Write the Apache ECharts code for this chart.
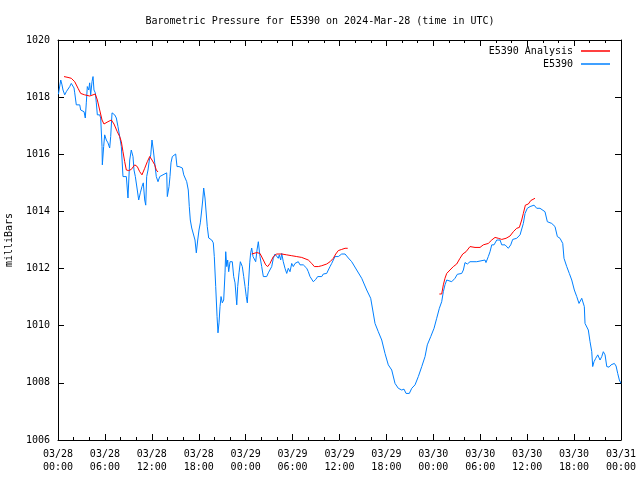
<!DOCTYPE html>
<html>
<head>
<meta charset="utf-8">
<script src="https://cdn.jsdelivr.net/npm/echarts@6/dist/echarts.min.js"></script>
<style>
html,body{margin:0;padding:0;background:#fff;}
#chart{width:640px;height:480px;}
</style>
</head>
<body>
<div id="chart"></div>
<script>
// Hours since 2024-03-28 00:00 UTC
const stationHours = [0.05,0.22,0.35,0.51,0.64,0.86,1.06,1.28,1.50,1.70,1.92,2.05,2.14,2.34,2.56,2.78,2.90,3.07,3.33,3.49,3.62,3.75,3.93,4.05,4.18,4.35,4.48,4.60,4.77,4.90,5.03,5.21,5.33,5.46,5.63,5.67,5.84,5.97,6.18,6.39,6.61,6.74,6.91,7.03,7.25,7.46,7.67,7.89,8.10,8.31,8.53,8.74,8.95,9.17,9.37,9.59,9.72,9.89,10.14,10.32,10.53,10.74,10.91,11.09,11.22,11.34,11.51,11.68,11.86,12.02,12.19,12.37,12.57,12.79,13.01,13.21,13.90,13.98,14.20,14.32,14.45,14.62,14.87,15.05,15.22,15.48,15.73,15.90,16.08,16.24,16.46,16.66,16.79,16.92,17.10,17.30,17.52,17.69,17.87,18.03,18.20,18.38,18.51,18.63,18.80,18.97,19.09,19.27,19.48,19.66,19.86,19.99,20.17,20.34,20.46,20.59,20.72,20.85,21.01,21.19,21.36,21.45,21.58,21.70,21.83,22.00,22.29,22.47,22.64,22.86,22.98,23.15,23.32,23.57,23.75,23.92,24.08,24.21,24.34,24.52,24.64,24.77,24.94,25.11,25.28,25.45,25.62,25.71,25.83,26.05,26.26,26.69,26.90,27.11,27.33,27.54,27.75,27.97,28.17,28.30,28.48,28.61,28.81,29.03,29.25,29.45,29.67,29.89,30.09,30.31,30.73,30.95,31.17,31.37,31.59,31.81,32.01,32.23,32.45,32.65,32.78,32.96,33.21,33.73,33.93,34.36,34.57,34.79,35.00,35.21,35.43,35.64,35.85,36.07,36.28,36.71,36.92,37.13,37.56,38.20,38.84,39.48,39.99,40.25,40.54,40.96,41.40,41.82,42.24,42.68,43.10,43.52,43.96,44.25,44.51,44.93,45.24,45.66,46.08,46.52,46.94,47.23,47.67,48.09,48.43,48.77,49.07,49.28,49.49,49.71,49.92,50.35,50.77,51.07,51.63,51.84,52.05,52.35,52.69,53.55,53.75,54.61,54.73,55.03,55.25,55.47,55.76,56.11,56.31,56.53,56.75,56.95,57.17,57.39,57.59,57.90,58.15,58.66,59.09,59.51,59.73,60.02,60.37,60.58,60.88,61.22,61.64,62.28,62.58,63.14,63.56,63.86,64.20,64.55,64.71,65.06,65.39,65.70,66.03,66.34,66.63,66.98,67.18,67.31,67.40,67.62,67.82,68.04,68.26,68.38,68.55,68.77,69.03,69.32,69.54,69.74,69.96,70.18,70.47,70.73,70.89,71.15,71.37,71.58,71.79,72.00];
const stationPressure = [1018.10,1018.08,1018.60,1018.43,1018.25,1018.08,1018.19,1018.25,1018.37,1018.48,1018.50,1018.32,1018.15,1017.73,1017.67,1017.73,1017.55,1017.62,1017.49,1017.27,1017.80,1018.37,1018.25,1018.50,1018.08,1018.54,1018.72,1018.25,1018.15,1017.80,1017.38,1017.45,1017.38,1017.27,1016.27,1015.63,1016.27,1016.68,1016.50,1016.40,1016.22,1016.62,1017.45,1017.49,1017.38,1017.27,1016.97,1016.62,1016.27,1015.22,1015.28,1015.22,1014.47,1015.80,1016.15,1015.92,1015.45,1015.22,1014.75,1014.40,1014.65,1014.87,1015.00,1014.40,1014.22,1015.22,1015.45,1015.80,1015.98,1016.50,1016.15,1015.70,1015.22,1015.04,1015.22,1015.28,1015.35,1014.52,1014.87,1015.22,1015.70,1015.92,1015.98,1016.01,1015.57,1015.57,1015.63,1015.52,1015.28,1015.28,1015.04,1014.75,1014.17,1013.70,1013.42,1013.35,1013.00,1012.55,1013.00,1013.35,1013.60,1014.05,1014.40,1014.82,1014.47,1014.52,1013.47,1013.07,1013.07,1013.00,1012.90,1012.42,1011.37,1010.32,1009.75,1010.10,1010.67,1011.02,1010.80,1010.90,1011.85,1012.59,1012.07,1012.30,1011.89,1012.24,1012.24,1011.72,1011.50,1010.73,1011.37,1011.85,1012.24,1012.07,1011.72,1011.37,1011.02,1010.80,1011.37,1012.20,1012.55,1012.72,1012.42,1012.48,1012.24,1012.65,1012.94,1012.90,1012.42,1012.07,1011.72,1011.72,1011.85,1011.89,1012.07,1012.36,1012.51,1012.48,1012.36,1012.48,1012.30,1012.53,1012.24,1012.01,1011.83,1012.01,1011.89,1012.18,1012.07,1012.18,1012.24,1012.13,1012.09,1012.13,1012.07,1012.01,1011.89,1011.72,1011.66,1011.54,1011.51,1011.62,1011.72,1011.72,1011.81,1011.83,1011.95,1012.07,1012.18,1012.30,1012.42,1012.36,1012.42,1012.48,1012.51,1012.51,1012.44,1012.37,1012.24,1011.95,1011.66,1011.25,1010.96,1010.55,1010.08,1009.79,1009.50,1009.03,1008.63,1008.45,1007.98,1007.81,1007.75,1007.78,1007.63,1007.63,1007.81,1007.93,1008.22,1008.57,1008.92,1009.33,1009.62,1009.91,1010.26,1010.61,1010.84,1011.19,1011.43,1011.60,1011.54,1011.54,1011.66,1011.80,1011.83,1011.95,1012.21,1012.16,1012.24,1012.24,1012.30,1012.30,1012.21,1012.42,1012.59,1012.83,1012.83,1013.00,1012.94,1013.00,1012.83,1012.77,1012.83,1012.77,1012.71,1012.83,1013.02,1013.06,1013.18,1013.58,1013.93,1014.11,1014.17,1014.11,1014.22,1014.11,1014.11,1013.99,1013.64,1013.58,1013.47,1013.12,1013.06,1012.88,1012.36,1012.07,1011.83,1011.60,1011.25,1011.02,1010.78,1010.96,1010.90,1010.67,1010.08,1010.08,1009.85,1009.44,1009.09,1008.57,1008.74,1008.86,1008.98,1008.80,1008.92,1009.09,1008.98,1008.57,1008.55,1008.63,1008.57,1008.68,1008.59,1008.33,1008.10,1007.98];

// Analysis (null = gap in analysis)
const analysisHours = [0.77,1.28,1.70,2.14,2.56,2.90,3.41,4.05,4.48,4.77,5.03,5.33,5.63,5.88,6.39,6.82,7.16,7.58,7.89,8.10,8.31,8.53,8.74,9.04,9.37,9.81,10.14,10.45,10.74,11.09,11.42,11.73,12.02,12.37,12.57,12.79,
  18.00,
  24.77,25.41,25.83,26.26,26.56,26.82,27.11,27.54,27.97,28.61,29.25,29.89,30.53,31.17,32.01,32.45,32.78,33.29,33.73,34.36,34.79,35.21,35.52,35.85,36.28,36.71,37.05,
  43.00,
  48.77,49.07,49.28,49.49,49.71,50.13,50.56,50.99,51.41,51.76,52.18,52.69,53.33,53.97,54.39,55.03,55.47,55.89,56.31,56.75,57.30,57.81,58.23,58.66,59.00,59.30,59.51,59.77,60.15,60.46,60.71,61.00];
const analysisPressure = [1018.72,1018.69,1018.66,1018.54,1018.31,1018.13,1018.08,1018.04,1018.08,1018.11,1017.90,1017.55,1017.20,1017.06,1017.14,1017.20,1017.06,1016.79,1016.62,1016.44,1016.09,1015.74,1015.45,1015.43,1015.47,1015.63,1015.57,1015.39,1015.28,1015.51,1015.74,1015.92,1015.80,1015.63,1015.45,1015.38,
  null,
  1012.51,1012.56,1012.53,1012.30,1012.13,1012.07,1012.18,1012.42,1012.51,1012.51,1012.48,1012.45,1012.42,1012.39,1012.30,1012.18,1012.07,1012.07,1012.10,1012.16,1012.24,1012.36,1012.51,1012.63,1012.67,1012.71,1012.71,
  null,
  1011.11,1011.11,1011.43,1011.66,1011.83,1011.95,1012.07,1012.16,1012.36,1012.51,1012.59,1012.77,1012.74,1012.74,1012.83,1012.88,1013.00,1013.09,1013.06,1013.02,1013.06,1013.14,1013.29,1013.41,1013.44,1013.70,1013.93,1014.22,1014.26,1014.38,1014.43,1014.46];

const xTicksHours = [0,6,12,18,24,30,36,42,48,54,60,66,72];
const yTicks = [1006,1008,1010,1012,1014,1016,1018,1020];

const FONT = 'DejaVu Sans Mono';
const chart = echarts.init(document.getElementById('chart'), null, {renderer: 'canvas'});

function xLabel(h) {
  const day = 28 + Math.floor(h / 24);
  const hh = h % 24;
  return '03/' + day + '\n' + (hh < 10 ? '0' : '') + hh + ':00';
}

const stationData = stationHours.map((h, i) => [h, stationPressure[i]]);
const analysisData = analysisHours.map((h, i) => [h, analysisPressure[i] === null ? '-' : analysisPressure[i]]);

const xCommon = {
  type: 'value', min: xTicksHours[0], max: xTicksHours[xTicksHours.length - 1], interval: 6,
  splitLine: {show: false},
  axisLine: {show: true, onZero: false, lineStyle: {color: '#000', width: 1}},
  axisTick: {show: true, inside: true, length: 6, lineStyle: {color: '#000'}},
  minorTick: {show: true, splitNumber: 3, length: 3, lineStyle: {color: '#000'}},
  minorSplitLine: {show: false}
};
const yCommon = {
  type: 'value', min: yTicks[0], max: yTicks[yTicks.length - 1], interval: 2,
  splitLine: {show: false},
  axisLine: {show: true, onZero: false, lineStyle: {color: '#000', width: 1}},
  axisTick: {show: true, inside: true, length: 6, lineStyle: {color: '#000'}}
};

chart.setOption({
  animation: false,
  backgroundColor: '#fff',
  title: {
    text: 'Barometric Pressure for E5390 on 2024-Mar-28 (time in UTC)',
    left: 'center', top: 11,
    textStyle: {fontFamily: FONT, fontSize: 10, fontWeight: 'normal', color: '#000'}
  },
  legend: [
    {
      data: ['E5390 Analysis'], right: 30, top: 46, orient: 'vertical', align: 'right', padding: 0,
      icon: 'rect', itemWidth: 29, itemHeight: 1.5,
      textStyle: {fontFamily: FONT, fontSize: 10, color: '#000', padding: [0, 3, 0, 0]}
    },
    {
      data: ['E5390'], right: 30, top: 59, orient: 'vertical', align: 'right', padding: 0,
      icon: 'rect', itemWidth: 29, itemHeight: 1.5,
      textStyle: {fontFamily: FONT, fontSize: 10, color: '#000', padding: [0, 3, 0, 0]}
    }
  ],
  grid: {left: 58, right: 19, top: 40, bottom: 40, show: false, containLabel: false, outerBoundsMode: 'none'},
  xAxis: [
    Object.assign({}, xCommon, {
      position: 'bottom',
      axisLabel: {
        show: true, showMinLabel: true, showMaxLabel: true, margin: 8,
        fontFamily: FONT, fontSize: 10, color: '#000', lineHeight: 13,
        formatter: xLabel
      }
    }),
    Object.assign({}, xCommon, {position: 'top', axisLabel: {show: false}})
  ],
  yAxis: [
    Object.assign({}, yCommon, {
      position: 'left',
      name: 'milliBars', nameLocation: 'middle', nameGap: 44, nameRotate: 90,
      nameTextStyle: {fontFamily: FONT, fontSize: 10, color: '#000'},
      axisLabel: {show: true, margin: 8, fontFamily: FONT, fontSize: 10, color: '#000',
        formatter: function (v) { return String(v); }}
    }),
    Object.assign({}, yCommon, {position: 'right', axisLabel: {show: false}})
  ],
  series: [
    {
      name: 'E5390 Analysis', type: 'line', data: analysisData,
      xAxisIndex: 0, yAxisIndex: 0,
      showSymbol: false, symbol: 'none', connectNulls: false,
      lineStyle: {color: '#ff0000', width: 1},
      itemStyle: {color: '#ff0000'}, z: 3
    },
    {
      name: 'E5390', type: 'line', data: stationData,
      xAxisIndex: 0, yAxisIndex: 0,
      showSymbol: false, symbol: 'none',
      lineStyle: {color: '#0080ff', width: 1},
      itemStyle: {color: '#0080ff'}, z: 2
    }
  ]
});
</script>
</body>
</html>
